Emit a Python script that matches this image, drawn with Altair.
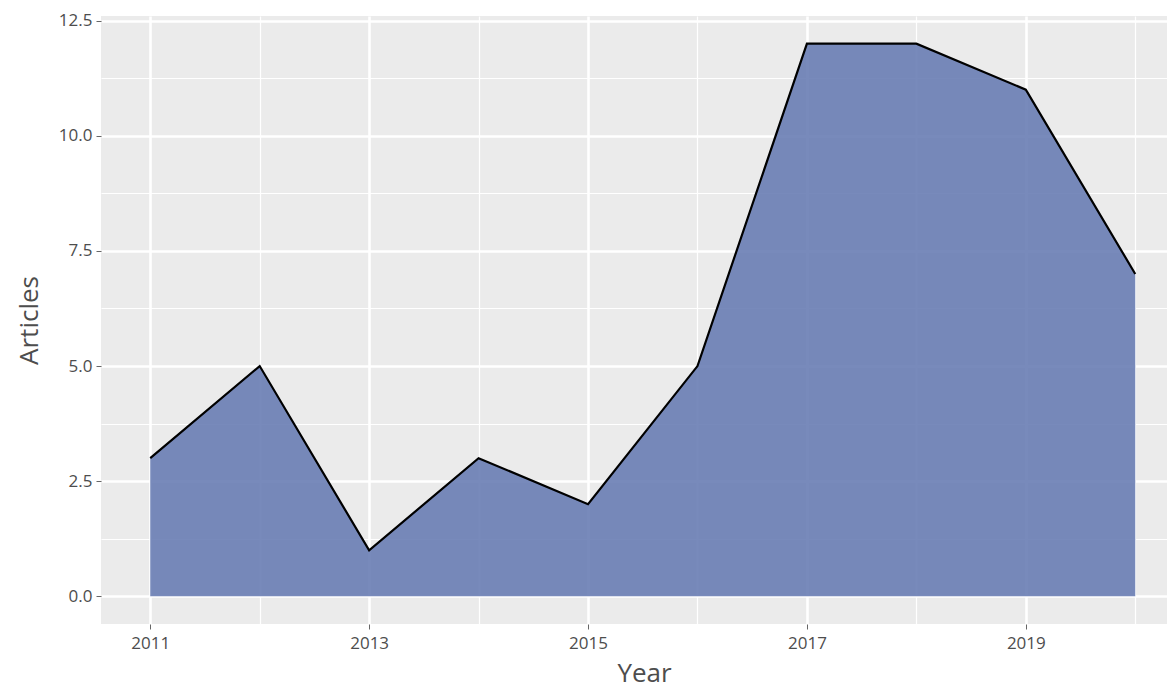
import altair as alt
import pandas as pd

years = [2011, 2012, 2013, 2014, 2015, 2016, 2017, 2018, 2019, 2020]
articles = [3, 5, 1, 3, 2, 5, 12, 12, 11, 7]

x_ticks = [2011, 2012, 2013, 2014, 2015, 2016, 2017, 2018, 2019, 2020]
y_ticks = [0, 1.25, 2.5, 3.75, 5, 6.25, 7.5, 8.75, 10, 11.25, 12.5]

df = pd.DataFrame({"Year": years, "Articles": articles})

FONT = "Open Sans"
LABEL_COLOR = "#4D4D4D"

x_enc = alt.X(
    "Year:Q",
    scale=alt.Scale(domain=[2010.55, 2020.29], nice=False, zero=False),
    axis=alt.Axis(
        values=x_ticks,
        labelExpr="datum.value % 2 == 1 ? format(datum.value, 'd') : ''",
        gridWidth={"condition": {"test": "datum.value % 2 == 1", "value": 2.6}, "value": 1.2},
        tickOpacity={"condition": {"test": "datum.value % 2 == 1", "value": 1}, "value": 0},
        title="Year",
        titleX=543,
        titleY=49,
        titleBaseline="middle",
        titleAlign="center",
    ),
)
y_enc = alt.Y(
    "Articles:Q",
    scale=alt.Scale(domain=[-0.6, 12.6], nice=False, zero=False),
    axis=alt.Axis(
        values=y_ticks,
        labelExpr="datum.value % 2.5 == 0 ? format(datum.value, '.1f') : ''",
        gridWidth={"condition": {"test": "datum.value % 2.5 == 0", "value": 2.6}, "value": 1.2},
        tickOpacity={"condition": {"test": "datum.value % 2.5 == 0", "value": 1}, "value": 0},
        title="Articles",
        titleX=-72,
        titleY=304,
        titleBaseline="middle",
        titleAlign="center",
        titleAngle=-90,
    ),
)

base = alt.Chart(df)
area = base.mark_area(color="#697DB4", opacity=0.9).encode(x=x_enc, y=y_enc)
line = base.mark_line(color="black", strokeWidth=2.2).encode(x="Year:Q", y="Articles:Q")

chart = (
    alt.layer(area, line)
    .properties(
        width=1066,
        height=608,
        padding={"left": 93, "top": 8, "right": 0, "bottom": 64},
        autosize=alt.AutoSizeParams(type="none"),
        background="white",
    )
    .configure_view(fill="#EBEBEB", stroke=None)
    .configure_axis(
        domain=False,
        grid=True,
        gridColor="white",
        tickColor="#666666",
        tickSize=5,
        tickWidth=1,
        labelFont=FONT,
        labelFontSize=17,
        labelColor=LABEL_COLOR,
        labelPadding=4,
        titleFont=FONT,
        titleFontSize=26,
        titleFontWeight="normal",
        titleColor=LABEL_COLOR,
    )
    .configure_axisX(labelPadding=6)
)

chart.save("out.html", embed_options={"renderer": "svg", "actions": False})
